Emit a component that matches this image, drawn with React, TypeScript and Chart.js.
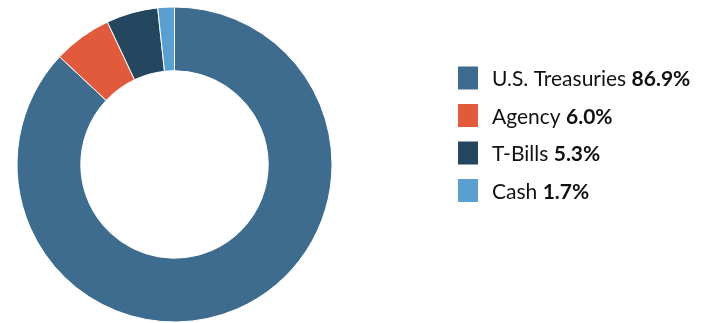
import React, { useEffect, useRef } from "react";
import { Chart, registerables } from "chart.js";

Chart.register(...registerables);

const categories = ["U.S. Treasuries", "Agency", "T-Bills", "Cash"];
const values = [86.9, 6.0, 5.3, 1.7];
const valueLabels = ["86.9%", "6.0%", "5.3%", "1.7%"];
const colors = ["#3E6C8E", "#E05A3B", "#24475F", "#5A9FD2"];

const FONT = "Lato, 'Open Sans', sans-serif";

const legendPlugin = {
  id: "customLegend",
  afterDraw(chart: any) {
    const ctx = chart.ctx as CanvasRenderingContext2D;
    const labels = chart.data.labels as string[];
    const ds = chart.data.datasets[0];
    const boxX = 458;
    const boxW = 20;
    const boxH = 23;
    const firstCenter = 78;
    const step = 37.5;
    const textX = 492;
    ctx.save();
    ctx.textBaseline = "alphabetic";
    labels.forEach((lab, i) => {
      const cy = firstCenter + i * step;
      ctx.fillStyle = ds.backgroundColor[i];
      ctx.fillRect(boxX, cy - boxH / 2, boxW, boxH);
      const baseline = cy + 8;
      ctx.fillStyle = "#111111";
      ctx.font = `400 21px ${FONT}`;
      ctx.fillText(lab + " ", textX, baseline);
      const w = ctx.measureText(lab + " ").width;
      ctx.font = `700 21px ${FONT}`;
      ctx.fillText(valueLabels[i], textX + w, baseline);
    });
    ctx.restore();
  },
};

export default function App() {
  const ref = useRef<HTMLCanvasElement>(null);
  useEffect(() => {
    if (!ref.current) return;
    const chart = new Chart(ref.current, {
      type: "doughnut",
      data: {
        labels: categories,
        datasets: [
          {
            data: values,
            backgroundColor: colors,
            borderColor: "#ffffff",
            borderWidth: 1,
          },
        ],
      },
      options: {
        responsive: false,
        animation: false,
        cutout: "59.5%",
        layout: { padding: { left: 16.5, top: 6.5, bottom: 0.5, right: 368.5 } },
        plugins: {
          legend: { display: false },
          tooltip: { enabled: false },
        },
      },
      plugins: [legendPlugin],
    });
    return () => chart.destroy();
  }, []);
  return (
    <div style={{ position: "fixed", left: 0, top: 0, width: 701, height: 323, background: "#fff" }}>
      <canvas ref={ref} width={701} height={323} style={{ width: 701, height: 323 }} />
    </div>
  );
}
